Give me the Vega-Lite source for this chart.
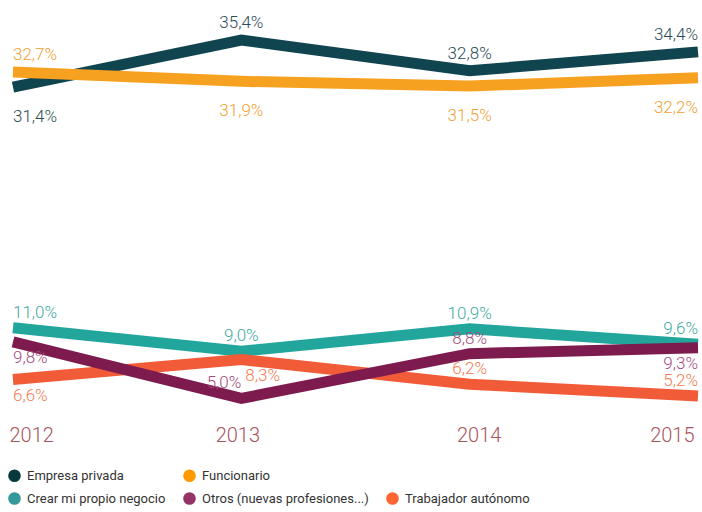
{
  "$schema": "https://vega.github.io/schema/vega-lite/v6.json",
  "width": 685,
  "height": 422,
  "autosize": {"type": "none"},
  "padding": {"left": 13, "top": 0, "right": 4, "bottom": 90},
  "background": "white",
  "config": {
    "view": {"stroke": null},
    "locale": {"number": {"decimal": ",", "thousands": ".", "grouping": [3], "currency": ["", "%"]}}
  },
  "data": {
    "values": [
      {"serie": "Empresa privada", "year": "2012", "value": 31.4},
      {"serie": "Empresa privada", "year": "2013", "value": 35.4},
      {"serie": "Empresa privada", "year": "2014", "value": 32.8},
      {"serie": "Empresa privada", "year": "2015", "value": 34.4},
      {"serie": "Funcionario", "year": "2012", "value": 32.7},
      {"serie": "Funcionario", "year": "2013", "value": 31.9},
      {"serie": "Funcionario", "year": "2014", "value": 31.5},
      {"serie": "Funcionario", "year": "2015", "value": 32.2},
      {"serie": "Crear mi propio negocio", "year": "2012", "value": 11.0},
      {"serie": "Crear mi propio negocio", "year": "2013", "value": 9.0},
      {"serie": "Crear mi propio negocio", "year": "2014", "value": 10.9},
      {"serie": "Crear mi propio negocio", "year": "2015", "value": 9.6},
      {"serie": "Trabajador autónomo", "year": "2012", "value": 6.6},
      {"serie": "Trabajador autónomo", "year": "2013", "value": 8.3},
      {"serie": "Trabajador autónomo", "year": "2014", "value": 6.2},
      {"serie": "Trabajador autónomo", "year": "2015", "value": 5.2},
      {"serie": "Otros (nuevas profesiones...)", "year": "2012", "value": 9.8},
      {"serie": "Otros (nuevas profesiones...)", "year": "2013", "value": 5.0},
      {"serie": "Otros (nuevas profesiones...)", "year": "2014", "value": 8.8},
      {"serie": "Otros (nuevas profesiones...)", "year": "2015", "value": 9.3}
    ]
  },
  "encoding": {
    "x": {
      "field": "year", "type": "ordinal",
      "scale": {"type": "point", "padding": 0},
      "axis": {
        "title": null, "domain": false, "ticks": false, "grid": false, "labelAngle": 0,
        "labelFont": "Roboto", "labelFontWeight": 300, "labelFontSize": 20, "labelColor": "#a8545c",
        "labelPadding": 3, "labelFlush": true, "labelFlushOffset": 0,
        "labelOffset": {"condition": {"test": "datum.value == '2014'", "value": 9}, "value": -4}
      }
    },
    "y": {"field": "value", "type": "quantitative", "scale": {"domain": [3, 38.8], "nice": false, "zero": false}, "axis": null}
  },
  "layer": [
    {
      "mark": {"type": "line", "strokeWidth": 11, "strokeCap": "butt", "strokeJoin": "miter"},
      "encoding": {
        "color": {
          "field": "serie", "type": "nominal",
          "scale": {
            "domain": ["Empresa privada", "Funcionario", " ", "Crear mi propio negocio", "Otros (nuevas profesiones...)", "Trabajador autónomo"],
            "range": ["#10444f", "#f6a11f", "#ffffff", "#22a69c", "#7d1b4e", "#f15b38"]
          },
          "legend": {
            "title": null, "orient": "none", "legendX": -5, "legendY": 469, "direction": "horizontal",
            "columns": 3, "columnPadding": 17, "rowPadding": 9,
            "labelFont": "Roboto", "labelFontSize": 13, "labelColor": "#333333", "labelLimit": 300,
            "labelOffset": 6, "symbolType": "circle", "symbolSize": 160,
            "encode": {"symbols": {"update": {
              "fill": {"signal": "datum.value == 'Empresa privada' ? '#083a3c' : datum.value == 'Funcionario' ? '#ff9b00' : datum.value == 'Crear mi propio negocio' ? '#349a99' : datum.value == 'Otros (nuevas profesiones...)' ? '#963366' : datum.value == 'Trabajador autónomo' ? '#ff6633' : 'transparent'"},
              "strokeWidth": {"value": 0},
              "opacity": {"value": 1}
            }}}
          }
        }
      }
    },
    {
      "mark": {
        "type": "text", "font": "Roboto", "fontWeight": 300, "fontSize": 17, "baseline": "alphabetic",
        "align": {"expr": "datum.year == '2012' ? 'left' : datum.year == '2015' ? 'right' : (datum.year == '2013' && datum.serie == 'Otros (nuevas profesiones...)') ? 'right' : (datum.year == '2013' && datum.serie == 'Trabajador autónomo') ? 'left' : 'center'"},
        "dx": {"expr": "datum.year == '2013' && datum.serie == 'Trabajador autónomo' ? 4 : 0"},
        "dy": {"expr": "((datum.serie == 'Empresa privada' && datum.year == '2012') || (datum.serie == 'Funcionario' && datum.year != '2012') || (datum.serie == 'Otros (nuevas profesiones...)' && (datum.year == '2012' || datum.year == '2015')) || (datum.serie == 'Trabajador autónomo' && (datum.year == '2012' || datum.year == '2013'))) ? (datum.value > 20 ? 35 : 21) : (datum.value > 20 ? -12 : -10)"}
      },
      "encoding": {
        "text": {"field": "value", "type": "quantitative", "format": "$.1f"},
        "color": {
          "field": "serie", "type": "nominal",
          "scale": {
            "domain": ["Empresa privada", "Funcionario", "Crear mi propio negocio", "Otros (nuevas profesiones...)", "Trabajador autónomo"],
            "range": ["#2a4d56", "#f2a234", "#3eaaa2", "#a14b80", "#f57b52"]
          },
          "legend": null
        }
      }
    }
  ],
  "resolve": {"scale": {"color": "independent"}}
}
